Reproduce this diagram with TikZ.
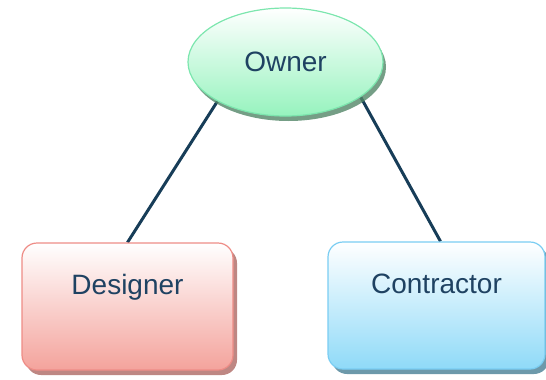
\documentclass[tikz,border=0pt]{standalone}
\usepackage{fontspec}
\setmainfont{Liberation Sans}
\usetikzlibrary{shapes.geometric,shadows,backgrounds}

\definecolor{inkblue}{HTML}{1F4262}
\definecolor{linkblue}{HTML}{173D58}
\definecolor{mintfill}{HTML}{96F3BE}
\definecolor{mintedge}{HTML}{7CE6AE}
\definecolor{rosefill}{HTML}{F4A39C}
\definecolor{roseedge}{HTML}{EE8C86}
\definecolor{skyfill}{HTML}{8FDAF8}
\definecolor{skyedge}{HTML}{7ACDF2}

\begin{document}
\begin{tikzpicture}[x=1pt,y=-1pt,
    party/.style={font=\fontsize{28}{32}\selectfont, text=inkblue, line width=1.2pt},
    role/.style={party, rectangle, rounded corners=15pt,
      minimum width=211pt, minimum height=127pt,
      text height=20pt, text depth=45pt},
    link/.style={draw=linkblue, line width=3pt}]
        \useasboundingbox (0,0) rectangle (546,380);
        \node[party, ellipse, minimum width=195pt, minimum height=108pt,
              draw=mintedge, top color=white, bottom color=mintfill,
              drop shadow={shadow xshift=3pt, shadow yshift=-5pt, fill=black!45!mintfill, opacity=.8}]
              (owner) at (285.5,62) {Owner};
        \node[role, draw=roseedge, top color=white, bottom color=rosefill,
              drop shadow={shadow xshift=4pt, shadow yshift=-5pt, fill=black!25!rosefill, opacity=.9}]
              (designer) at (127.5,306.5) {Designer};
        \node[role, minimum width=217pt, draw=skyedge, top color=white, bottom color=skyfill,
              drop shadow={shadow xshift=4pt, shadow yshift=-5pt, fill=black!35!skyfill, opacity=.9}]
              (contractor) at (436.5,305.5) {Contractor};
        %% links go behind the shadows
        \begin{scope}[on background layer]
          \draw[link] (owner.210) -- (designer.north);
          \draw[link] (owner.335) -- ([xshift=4pt]contractor.north);
        \end{scope}
      \end{tikzpicture}
\end{document}
